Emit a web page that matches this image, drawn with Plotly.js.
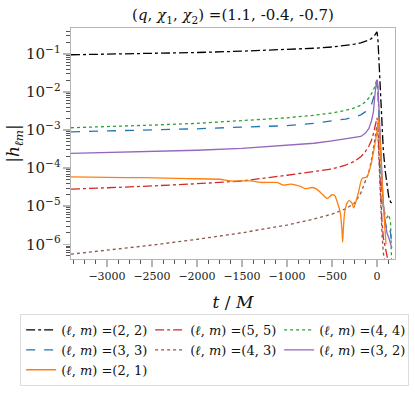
<!DOCTYPE html>
<html>
<head>
<meta charset="utf-8">
<script src="https://cdn.plot.ly/plotly-3.0.1.min.js"></script>
<style>
  body { margin: 0; background: #fff; }
  #plotArea { width: 415px; height: 398px; }
</style>
</head>
<body>
<div id="plotArea"></div>
<script>
// time grid (t/M) shared by the smooth modes
var tGrid = [-3400, -3000, -2500, -2000, -1500, -1000, -700, -500, -350, -250, -180, -130, -90, -60, -40, -20, -10, 0,
             10, 20, 30, 40, 55, 70, 90, 110, 130, 150, 165];

var h22 = [0.095, 0.098, 0.103, 0.109, 0.118, 0.13, 0.141, 0.152, 0.165, 0.18, 0.195, 0.21, 0.23, 0.255, 0.28, 0.32, 0.35, 0.38,
           0.25, 0.08, 0.015, 4e-3, 1e-3, 3e-4, 9e-5, 3.5e-5, 1.8e-5, 1.3e-5, 1.2e-5];
var h55 = [2.8e-5, 3.0e-5, 3.4e-5, 3.9e-5, 4.6e-5, 6.5e-5, 8e-5, 9.5e-5, 1.2e-4, 1.5e-4, 2.0e-4, 2.7e-4, 3.8e-4, 5.5e-4, 8e-4, 1.4e-3, 1.8e-3, 2.1e-3,
           1.2e-3, 3e-4, 6e-5, 1.5e-5, 4e-6, 1.5e-6, 8e-7, 5e-7, 3e-7, 2e-7, 1e-7];
var h44 = [1.15e-3, 1.22e-3, 1.35e-3, 1.5e-3, 1.75e-3, 2.1e-3, 2.45e-3, 2.8e-3, 3.3e-3, 3.8e-3, 4.5e-3, 5.5e-3, 7e-3, 9e-3, 0.011, 0.015, 0.018, 0.022,
           0.012, 3e-3, 6e-4, 1.5e-4, 3e-5, 1e-5, 6e-6, 5e-6, 6e-6, 4e-6, 2e-7];
var h33 = [9e-4, 9.4e-4, 1.0e-3, 1.08e-3, 1.2e-3, 1.3e-3, 1.5e-3, 1.7e-3, 1.95e-3, 2.2e-3, 2.5e-3, 3e-3, 3.7e-3, 4.8e-3, 6.5e-3, 0.01, 0.014, 0.019,
           0.01, 2.5e-3, 5e-4, 1.2e-4, 3e-5, 1e-5, 4e-6, 2.5e-6, 3e-6, 2e-6, 1e-6];
var h43 = [5.5e-7, 7e-7, 9.5e-7, 1.35e-6, 2e-6, 3.2e-6, 4.6e-6, 6.2e-6, 8.5e-6, 1.2e-5, 2.2e-5, 4.5e-5, 8e-5, 1.7e-4, 3e-4, 6.5e-4, 9.5e-4, 1.3e-3,
           8e-4, 2e-4, 4e-5, 1e-5, 2e-6, 6e-7, 3e-7, 2e-7, 1e-7, 1e-7, 1e-7];
var h32 = [2.45e-4, 2.55e-4, 2.75e-4, 2.95e-4, 3.3e-4, 3.9e-4, 4.5e-4, 5.2e-4, 5.8e-4, 6.4e-4, 6.8e-4, 8.2e-4, 1.1e-3, 1.8e-3, 3e-3, 0.01, 0.016, 0.021,
           0.015, 5e-3, 1e-3, 2.5e-4, 5e-5, 1.2e-5, 4e-6, 2e-6, 1.5e-6, 1e-6, 8e-7];

// the (2,1) mode has its own grid, it wiggles before merger
var t21 = [-3400, -3000, -2600, -2100, -1750, -1630, -1400, -1300, -1110, -1040, -960, -900, -850, -800, -720, -670, -610, -555,
           -500, -470, -437, -408, -390, -382, -374, -360, -333, -308, -278, -260, -233, -204, -167, -111, -74, -37, 0, 18,
           30, 45, 60, 80, 100];
var h21 = [5.9e-5, 5.7e-5, 5.6e-5, 5.3e-5, 5.1e-5, 4.6e-5, 4.6e-5, 4.2e-5, 4.2e-5, 3.6e-5, 3.8e-5, 3.6e-5, 3.3e-5, 2.9e-5, 3.1e-5, 2.8e-5, 2.1e-5, 1.6e-5,
           2.0e-5, 1.9e-5, 1.2e-5, 6.7e-6, 2.5e-6, 1.13e-6, 2.5e-6, 6.7e-6, 1.2e-5, 1.4e-5, 1.2e-5, 9e-6, 1.35e-5, 2.4e-5, 5.3e-5, 5.9e-5, 1.06e-4, 2.8e-4, 9.3e-4, 2.0e-3,
           8e-4, 1.5e-4, 3e-5, 5e-6, 1e-6];

var xTicks = [-3000, -2500, -2000, -1500, -1000, -500, 0];

function lbl(l, m) {
  return "(<i>ℓ</i>, <i>m</i>) =(" + l + ", " + m + ")";
}

function mode(x, y, name, color, dash, shape) {
  return {x: x, y: y, name: name, type: "scatter", mode: "lines",
          line: {color: color, width: 1.3, dash: dash, shape: shape || "linear", smoothing: 0.6}};
}

// legend fills row by row, so order follows the reference's columns
var traces = [
  mode(tGrid, h22, lbl(2, 2), "#000000", "dashdot"),
  mode(tGrid, h55, lbl(5, 5), "#d62728", "dashdot"),
  mode(tGrid, h44, lbl(4, 4), "#2ca02c", "dot"),
  mode(tGrid, h33, lbl(3, 3), "#1f77b4", "dash"),
  mode(tGrid, h43, lbl(4, 3), "#8c564b", "dot"),
  mode(tGrid, h32, lbl(3, 2), "#9467bd", "solid"),
  mode(t21, h21, lbl(2, 1), "#ff7f0e", "solid", "spline")
];

var serif = "DejaVu Serif";

var layout = {
  width: 415, height: 398,
  margin: {l: 71, r: 20, t: 28, b: 135},
  paper_bgcolor: "#fff", plot_bgcolor: "#fff",
  font: {family: serif, size: 12, color: "#222"},
  title: {text: "(<i>q</i>, <i>χ</i><sub>1</sub>, <i>χ</i><sub>2</sub>) =(1.1, -0.4, -0.7)",
          font: {family: serif, size: 15, color: "#111"},
          x: 0.5, xref: "paper", y: 0.962, yref: "container", yanchor: "middle"},
  xaxis: {
    range: [-3400, 200], tickvals: xTicks, showgrid: false, zeroline: false,
    showline: true, linecolor: "#b5b5b5", linewidth: 1, mirror: true,
    ticks: "outside", ticklen: 7, tickwidth: 1.5, tickcolor: "#b5b5b5",
    minor: {dtick: 125, tick0: 0, ticks: "outside", ticklen: 4, tickcolor: "#555", tickwidth: 1, showgrid: false},
    tickfont: {family: serif, size: 11, color: "#222"},
    title: {text: "<i>t</i> / <i>M</i>", font: {family: serif, size: 17, color: "#111"}, standoff: 13}
  },
  yaxis: {
    type: "log", range: [-6.387, -0.319], dtick: 1, exponentformat: "power",
    showgrid: false, zeroline: false,
    showline: true, linecolor: "#b5b5b5", linewidth: 1, mirror: true,
    ticks: "outside", ticklen: 7, tickwidth: 1.5, tickcolor: "#b5b5b5",
    minor: {dtick: "D1", ticks: "outside", ticklen: 4, tickcolor: "#555", tickwidth: 1, showgrid: false},
    tickfont: {family: serif, size: 12, color: "#222"},
    title: {text: "|<i>h</i><sub><i>ℓm</i></sub>|", font: {family: serif, size: 17, color: "#111"}, standoff: 0}
  },
  showlegend: true,
  legend: {
    orientation: "h", x: -0.157, xanchor: "left", y: -0.238, yanchor: "top",
    bgcolor: "#fff", bordercolor: "#dcdcdc", borderwidth: 1,
    font: {family: serif, size: 13, color: "#111"},
    itemwidth: 30, entrywidth: 84, tracegroupgap: 0
  }
};

Plotly.newPlot("plotArea", traces, layout, {displayModeBar: false, staticPlot: true});
</script>
</body>
</html>
